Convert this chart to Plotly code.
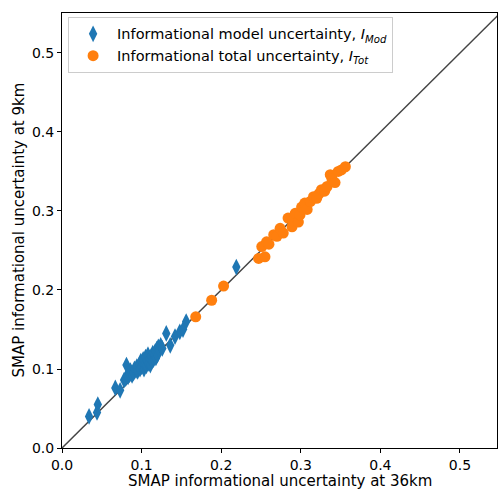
import plotly.graph_objects as go

# Informational model uncertainty (blue diamonds)
mod_36km = [0.034, 0.044, 0.045, 0.067, 0.073, 0.078, 0.080, 0.081, 0.083, 0.085,
            0.086, 0.088, 0.090, 0.091, 0.093, 0.094, 0.095, 0.097, 0.098, 0.099,
            0.100, 0.101, 0.102, 0.103, 0.104, 0.105, 0.106, 0.107, 0.108, 0.109,
            0.110, 0.111, 0.112, 0.113, 0.114, 0.115, 0.116, 0.117, 0.118, 0.119,
            0.120, 0.121, 0.122, 0.124, 0.126, 0.131, 0.136, 0.142, 0.148, 0.152,
            0.156, 0.219]
mod_9km = [0.040, 0.045, 0.055, 0.076, 0.073, 0.086, 0.088, 0.105, 0.090, 0.093,
           0.098, 0.092, 0.095, 0.100, 0.098, 0.103, 0.097, 0.105, 0.100, 0.110,
           0.103, 0.108, 0.112, 0.100, 0.106, 0.115, 0.104, 0.110, 0.118, 0.107,
           0.113, 0.105, 0.116, 0.110, 0.120, 0.112, 0.118, 0.122, 0.114, 0.125,
           0.118, 0.128, 0.124, 0.130, 0.126, 0.145, 0.130, 0.141, 0.147, 0.150,
           0.160, 0.229]

# Informational total uncertainty (orange circles)
tot_36km = [0.168, 0.188, 0.203, 0.247, 0.251, 0.255, 0.257, 0.260, 0.266, 0.270,
            0.274, 0.278, 0.284, 0.289, 0.290, 0.293, 0.297, 0.299, 0.301, 0.305,
            0.308, 0.312, 0.316, 0.320, 0.323, 0.326, 0.330, 0.333, 0.337, 0.339,
            0.343, 0.347, 0.351, 0.356]
tot_9km = [0.166, 0.187, 0.205, 0.240, 0.255, 0.242, 0.261, 0.258, 0.270, 0.268,
           0.278, 0.272, 0.291, 0.280, 0.288, 0.297, 0.286, 0.295, 0.305, 0.310,
           0.302, 0.312, 0.318, 0.316, 0.322, 0.327, 0.325, 0.331, 0.346, 0.341,
           0.336, 0.350, 0.352, 0.356]

one_to_one = [0.0, 0.55]
x_ticks = [0.0, 0.1, 0.2, 0.3, 0.4, 0.5]
y_ticks = [0.0, 0.1, 0.2, 0.3, 0.4, 0.5]

fig = go.Figure()
fig.add_trace(go.Scatter(x=one_to_one, y=one_to_one, mode="lines",
                         line=dict(color="#444444", width=1.5),
                         showlegend=False, hoverinfo="skip"))
fig.add_trace(go.Scatter(x=mod_36km, y=mod_9km, mode="markers",
                         name="Informational model uncertainty, <i>I<sub>Mod</sub></i>",
                         marker=dict(symbol="diamond-tall", size=12, color="#1f77b4",
                                     line=dict(width=0))))
fig.add_trace(go.Scatter(x=tot_36km, y=tot_9km, mode="markers",
                         name="Informational total uncertainty, <i>I<sub>Tot</sub></i>",
                         marker=dict(symbol="circle", size=11, color="#ff7f0e",
                                     line=dict(width=0))))

axis_common = dict(showgrid=False, zeroline=False, showline=True, linecolor="black",
                   linewidth=1, mirror=True, ticks="outside", ticklen=4,
                   tickcolor="black", tickfont=dict(size=14, color="black"),
                   tickformat=".1f", automargin=False)

fig.update_layout(
    width=498, height=490,
    margin=dict(l=62, r=1, t=13, b=42, autoexpand=False),
    plot_bgcolor="white", paper_bgcolor="white",
    font=dict(family="DejaVu Sans", color="black"),
    xaxis=dict(range=[0, 0.5465], tickvals=x_ticks, **axis_common),
    yaxis=dict(range=[0, 0.5506], tickvals=y_ticks, **axis_common),
    legend=dict(x=0.014, y=0.991, xanchor="left", yanchor="top",
                bgcolor="rgba(255,255,255,0.8)", bordercolor="#cccccc",
                borderwidth=1, font=dict(size=14.5), tracegroupgap=0,
                itemwidth=38),
    annotations=[
        dict(text="SMAP informational uncertainty at 36km", xref="paper", yref="paper",
             x=0.5, y=0, yshift=-33, xanchor="center", yanchor="middle",
             showarrow=False, font=dict(size=15)),
        dict(text="SMAP informational uncertainty at 9km", xref="paper", yref="paper",
             x=0, y=0.5, xshift=-44, xanchor="center", yanchor="middle",
             textangle=-90, showarrow=False, font=dict(size=15)),
    ],
)

fig.write_html("out.html", config={"displayModeBar": False},
               post_script="document.body.style.margin='0';document.body.style.overflow='hidden';")
